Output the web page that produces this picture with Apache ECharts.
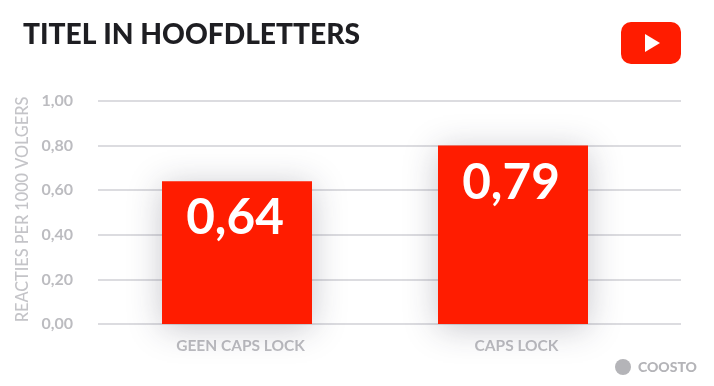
<!DOCTYPE html>
<html><head><meta charset="utf-8">
<style>html,body{margin:0;padding:0;background:#fff}#c{width:714px;height:386px}</style>
<script src="https://cdn.jsdelivr.net/npm/echarts@6/dist/echarts.min.js"></script>
</head><body><div id="c"></div>
<script>
const categories = ['GEEN CAPS LOCK', 'CAPS LOCK'];
const barValues = [0.64, 0.80];
const valueLabels = ['0,64', '0,79'];
const yTicks = { min: 0, max: 1, interval: 0.2 };
const titleText = 'TITEL IN HOOFDLETTERS';
const yName = 'REACTIES PER 1000 VOLGERS';

const chart = echarts.init(document.getElementById('c'), null, { renderer: 'canvas' });
const F = 'Lato';
chart.setOption({
  animation: false,
  backgroundColor: '#ffffff',
  title: { text: titleText, left: 18, top: 16, textStyle: { fontFamily: F, fontWeight: 900, fontSize: 28.2, color: '#1e1e22' } },
  grid: [
    { left: 98, right: 33, top: 101, bottom: 62 },
    { left: 99, width: 552, top: 101, bottom: 62 }
  ],
  xAxis: [
    { gridIndex: 0, type: 'value', min: 0, max: 1, show: false },
    { gridIndex: 1, type: 'category', data: categories,
      axisLine: { show: false }, axisTick: { show: false },
      axisLabel: { margin: 14, padding: [0, 0, 0, 7], fontFamily: F, fontWeight: 700, fontSize: 15.5, color: '#bcbcc0' } }
  ],
  yAxis: [
    { gridIndex: 0, type: 'value', min: yTicks.min, max: yTicks.max, interval: yTicks.interval,
      axisLine: { show: false }, axisTick: { show: false },
      axisLabel: { margin: 25, fontFamily: F, fontWeight: 700, fontSize: 16, color: '#bcbcc0', formatter: v => v.toFixed(2).replace('.', ',') },
      splitLine: { lineStyle: { color: '#dcdce0', width: 2 } },
      name: yName, nameLocation: 'middle', nameGap: 60, nameRotate: 90,
      nameTextStyle: { fontFamily: F, fontWeight: 500, fontSize: 16.3, color: '#c4c4c8', padding: [0, 0, 0, 6] } },
    { gridIndex: 1, type: 'value', min: yTicks.min, max: yTicks.max, interval: yTicks.interval, show: false }
  ],
  series: [{
    type: 'bar', xAxisIndex: 1, yAxisIndex: 1, data: barValues, barWidth: 150,
    itemStyle: { color: '#ff1c00', shadowColor: 'rgba(40,40,60,0.26)', shadowBlur: 32, shadowOffsetY: 4 },
    label: { show: true, position: 'insideTop', distance: 12, offset: [-2, 0], fontFamily: F, fontWeight: 700, fontSize: 49.5, color: '#fff',
      formatter: p => valueLabels[p.dataIndex] }
  }],
  graphic: [
    { type: 'rect', shape: { x: 621, y: 22, width: 60, height: 42, r: 10 }, style: { fill: '#ff1c00' } },
    { type: 'polygon', shape: { points: [[645, 34], [645, 52], [660, 43]] }, style: { fill: '#fff' } },
    { type: 'circle', shape: { cx: 623, cy: 367, r: 8 }, style: { fill: '#b4b4b8' } },
    { type: 'text', style: { x: 638, y: 367, text: 'COOSTO', fontFamily: F, fontWeight: 900, fontSize: 14, fill: '#b4b4b8', textVerticalAlign: 'middle' } }
  ]
});
</script></body></html>
